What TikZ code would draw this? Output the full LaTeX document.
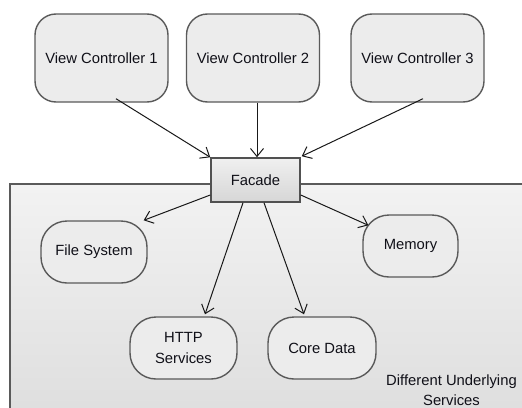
\documentclass[tikz,border=0pt]{standalone}
\usepackage{fontspec}
\setmainfont{Liberation Sans}
\usetikzlibrary{arrows.meta,calc}
\definecolor{boxfill}{HTML}{ECECEC}
\definecolor{boxline}{HTML}{5A5A5A}
\definecolor{txt}{HTML}{101018}
\tikzset{
  ctrl/.style={draw=boxline, line width=1.4pt, fill=boxfill, rounded corners=21pt,
    minimum width=133pt, minimum height=88pt, inner sep=0pt, text=txt,
    font=\fontsize{14.8}{20}\selectfont},
  svc/.style={draw=boxline, line width=1.4pt, fill=boxfill, rounded corners=26pt,
    minimum height=62pt, inner sep=0pt, text=txt, align=center,
    font=\fontsize{14.8}{20.5}\selectfont},
  facadebox/.style={draw=boxline!90!black, line width=1.5pt, top color=white!94!black,
    bottom color=white!84!black, minimum width=89pt, minimum height=44pt,
    inner sep=0pt, text=txt, font=\fontsize{14.8}{20}\selectfont},
  link/.style={draw=black!90, line width=1pt,
    -{Straight Barb[length=8pt,width=13pt,line width=1pt]}},
}
\begin{document}
\begin{tikzpicture}[x=1pt,y=-1pt]
  \useasboundingbox (0,0) rectangle (522,407);
  \clip (0,0) rectangle (522,407);
  \fill[white] (0,0) rectangle (522,407);

  % container of the services
  \shade[top color=white!95!black, bottom color=white!87!black]
    (10,184) rectangle (540,420);
  \draw[boxline, line width=1.6pt] (540,184) -- (10,184) -- (10,420);

  % controllers
  \node[ctrl] (vc1) at (101.5,58) {View Controller 1};
  \node[ctrl] (vc2) at (253,58) {View Controller 2};
  \node[ctrl] (vc3) at (417.5,58) {View Controller 3};

  % facade
  \node[facadebox] (fac) at (255.5,180) {Facade};

  % services
  \node[svc, minimum width=106pt] (fs) at (94,252) {File System};
  \node[svc, minimum width=107pt] (http) at (183.5,348) {HTTP\\Services};
  \node[svc, minimum width=108pt] (cd) at (322,348) {Core Data};
  \node[svc, minimum width=95pt, minimum height=62pt] (mem) at (410.5,246) {Memory};

  \node[text=txt, align=center, font=\fontsize{14.8}{20}\selectfont, inner sep=0pt]
    (lbl) at (451.5,390) {Different Underlying\\Services};

  % connectors
  \draw[link] ([xshift=14.5pt,yshift=4pt]vc1.south) -- (fac.north west);
  \draw[link] ([xshift=4pt]vc2.south) -- ([xshift=1.5pt]fac.north);
  \draw[link] ([xshift=5.5pt,yshift=4pt]vc3.south) -- ([xshift=1pt,yshift=1pt]fac.north east);

  \draw[link] ([yshift=-15pt]fac.west) -- ([xshift=-4pt]fs.north east);
  \draw[link] ([xshift=-12.5pt]fac.south) -- ([xshift=21.5pt,yshift=2pt]http.north);
  \draw[link] ([xshift=8.5pt]fac.south) -- ([xshift=-18pt,yshift=2pt]cd.north);
  \draw[link] ([yshift=-15pt]fac.east) -- ([xshift=6pt,yshift=-11pt]mem.north west);
\end{tikzpicture}
\end{document}
